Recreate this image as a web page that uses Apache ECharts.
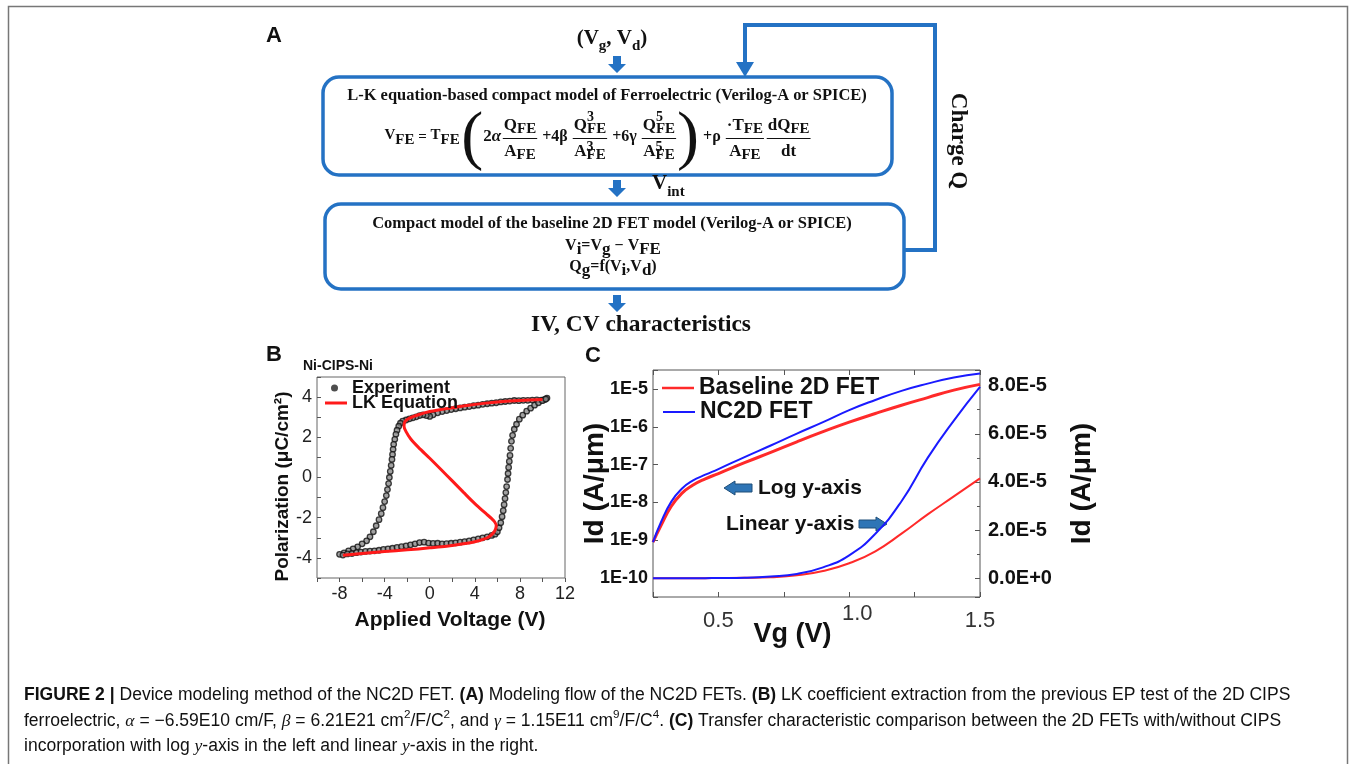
<!DOCTYPE html>
<html>
<head>
<meta charset="utf-8">
<script src="https://cdn.jsdelivr.net/npm/echarts@6/dist/echarts.min.js"></script>
<style>
html, body { margin: 0; padding: 0; background: #fff; }
#chart { width: 1356px; height: 764px; }
</style>
</head>
<body>
<div id="chart"></div>
<script>
// ---- panel B: hysteresis loop (experiment) and LK fit ----
const expVoltage = [
  10.4, 10.2, 9.9, 9.5, 9.1, 8.7, 8.3, 7.9, 7.5, 7.1, 6.7, 6.3, 5.9, 5.5, 5.1, 4.7, 4.3, 3.9, 3.5, 3.1,
  2.7, 2.3, 1.9, 1.5, 1.1, 0.7, 0.3, 0.0, -0.3, -0.6, -0.9, -1.2, -1.5, -1.8, -2.1,
  -2.4, -2.6, -2.75, -2.9, -3.0, -3.1, -3.2, -3.25, -3.3, -3.35, -3.42, -3.5, -3.58, -3.65, -3.75,
  -3.85, -4.0, -4.15, -4.3, -4.5, -4.75, -5.0, -5.3, -5.6, -6.0, -6.4, -6.8, -7.2, -7.6, -8.0,
  -7.7, -7.3, -6.9, -6.5, -6.1, -5.7, -5.3, -4.9, -4.5, -4.1, -3.7, -3.3, -2.9, -2.5, -2.1,
  -1.7, -1.3, -0.9, -0.5, -0.1, 0.3, 0.7, 1.1, 1.5, 1.9, 2.3, 2.7, 3.1, 3.5, 3.9, 4.3, 4.7, 5.1, 5.5,
  5.8, 6.0, 6.15, 6.3, 6.42, 6.52, 6.6, 6.68, 6.75, 6.82, 6.9, 6.95, 7.0, 7.06, 7.12, 7.18, 7.25,
  7.35, 7.5, 7.7, 7.95, 8.25, 8.6, 8.95, 9.3, 9.65, 10.0, 10.3
];
const expPolarization = [
  3.95, 3.88, 3.85, 3.86, 3.85, 3.84, 3.84, 3.82, 3.83, 3.8, 3.78, 3.76, 3.72, 3.7, 3.67, 3.64, 3.6, 3.57, 3.53, 3.5,
  3.46, 3.42, 3.38, 3.33, 3.28, 3.22, 3.12, 3.04, 3.08, 3.12, 3.08, 3.02, 2.97, 2.92, 2.86,
  2.8, 2.7, 2.55, 2.35, 2.15, 1.9, 1.65, 1.4, 1.15, 0.9, 0.6, 0.3, 0.0, -0.3, -0.6,
  -0.9, -1.2, -1.5, -1.8, -2.1, -2.4, -2.7, -2.95, -3.15, -3.3, -3.45, -3.55, -3.65, -3.75, -3.82,
  -3.86, -3.8, -3.78, -3.74, -3.71, -3.68, -3.66, -3.65, -3.62, -3.58, -3.55, -3.52, -3.48, -3.44, -3.4,
  -3.35, -3.3, -3.24, -3.22, -3.26, -3.28, -3.27, -3.3, -3.29, -3.27, -3.25, -3.22, -3.19, -3.15, -3.1, -3.05, -3.0, -2.95, -2.88,
  -2.82, -2.7, -2.5, -2.25, -1.95, -1.65, -1.35, -1.05, -0.75, -0.45, -0.1, 0.2, 0.5, 0.8, 1.1, 1.45, 1.8,
  2.1, 2.4, 2.65, 2.9, 3.1, 3.3, 3.45, 3.6, 3.72, 3.82, 3.9
];
const lkVoltage = [
  -7.7, -6.0, -4.0, -2.0, 0.0, 1.5, 3.0, 4.0, 4.8, 5.3, 5.65, 5.85, 5.9, 5.75, 5.5, 5.0, 4.0, 3.0, 2.0,
  1.0, 0.0, -1.0, -1.7, -2.1, -2.28, -2.2, -1.8, -1.0, 0.0, 1.0, 2.0, 3.3, 5.0, 6.5, 8.0, 10.0
];
const lkPolarization = [
  -3.87, -3.78, -3.68, -3.6, -3.5, -3.42, -3.3, -3.2, -3.07, -2.93, -2.75, -2.55, -2.38, -2.2, -2.05, -1.8, -1.3, -0.74, -0.17,
  0.4, 0.96, 1.5, 1.93, 2.28, 2.55, 2.78, 2.95, 3.12, 3.28, 3.38, 3.47, 3.58, 3.7, 3.78, 3.83, 3.88
];
const bVoltageLabels = [-8, -4, 0, 4, 8, 12];
const bPolarLabels = [-4, -2, 0, 2, 4];

// ---- panel C: transfer curves ----
const vgValues = [0.25, 0.28, 0.32, 0.36, 0.4, 0.45, 0.5, 0.6, 0.7, 0.8, 0.9, 1.0, 1.1, 1.2, 1.3, 1.4, 1.5];
const baselineLog = [8.9e-10, 2.4e-9, 7.9e-9, 1.74e-8, 2.8e-8, 4.2e-8, 5.8e-8, 1.12e-7, 2.1e-7, 4.0e-7,
  7.4e-7, 1.32e-6, 2.24e-6, 3.7e-6, 5.9e-6, 9.3e-6, 1.32e-5];
const nc2dLog = [8.9e-10, 2.95e-9, 1.05e-8, 2.3e-8, 3.7e-8, 5.4e-8, 7.6e-8, 1.58e-7, 3.2e-7, 6.6e-7,
  1.32e-6, 2.75e-6, 5.1e-6, 8.9e-6, 1.38e-5, 2.0e-5, 2.57e-5];
const baselineLinear = [0, 0, 0, 0, 0, 0.003e-5, 0.006e-5, 0.015e-5, 0.04e-5, 0.12e-5,
  0.3e-5, 0.62e-5, 1.12e-5, 1.85e-5, 2.65e-5, 3.4e-5, 4.15e-5];
const nc2dLinear = [0, 0, 0, 0, 0, 0.003e-5, 0.008e-5, 0.02e-5, 0.07e-5, 0.18e-5,
  0.45e-5, 0.95e-5, 1.85e-5, 3.2e-5, 5.0e-5, 6.55e-5, 7.95e-5];
const cVgLabels = [0.5, 1.0, 1.5];

const SANS = 'Liberation Sans';
const SERIF = 'Liberation Serif';
const BLUE = '#2472c4';
const INK = '#111';

// ---- text layout helpers (flowchart equations, caption) ----
const ctx = document.createElement('canvas').getContext('2d');
const fontOf = (s) => `${s.style || 'normal'} ${s.weight || 'normal'} ${s.size}px "${s.family}"`;
const measure = (s) => { ctx.font = fontOf(s); return ctx.measureText(s.t).width; };
const segWidth = (s) => {
  if (s.num) return Math.max(rowWidth(s.num), rowWidth(s.den)) + 4;
  if (s.stack) return Math.max(...s.stack.map(segWidth));
  return measure(s);
};
const rowWidth = (segs) => segs.reduce((w, s) => w + segWidth(s), 0);
const placeRow = (segs, x, y, align, out) => {
  let cx = align === 'center' ? x - rowWidth(segs) / 2 : x;
  segs.forEach((s) => {
    const w = segWidth(s);
    if (s.num) {
      placeRow(s.num, cx + w / 2, y + s.up, 'center', out);
      placeRow(s.den, cx + w / 2, y + s.down, 'center', out);
      out.push({ type: 'line', silent: true,
        shape: { x1: cx + 1, y1: y + s.bar, x2: cx + w - 1, y2: y + s.bar },
        style: { stroke: INK, lineWidth: 1.1 } });
    } else if (s.stack) {
      s.stack.forEach((t) => placeRow([t], cx, y, 'left', out));
    } else {
      out.push({ type: 'text', silent: true, x: cx, y: y + (s.dy || 0),
        style: { text: s.t, fontSize: s.size, fontFamily: s.family, fontWeight: s.weight || 'normal',
          fontStyle: s.style || 'normal', fill: s.fill || INK, align: 'left', verticalAlign: 'middle' } });
    }
    cx += w;
  });
};
const fitSize = (t, weight, family, target) => 100 * target / measure({ t, size: 100, weight, family });

const tb = (t, size, dy) => ({ t, size, weight: 'bold', family: SERIF, dy: dy || 0 });
const ti = (t, size, dy) => ({ t, size, weight: 'bold', style: 'italic', family: SERIF, dy: dy || 0 });
const FE = (dy) => tb('FE', 15, dy === undefined ? 3 : dy);
const stk = (sup, supDy) => ({ stack: [tb(sup, 14, supDy), FE(3)] });
const frac = (num, den) => ({ num, den, up: -11, down: 15, bar: 1.5 });
const paren = (t) => ({ t, size: 66, weight: 'normal', family: SERIF, dy: 3 });
const sp = (w) => tb(' ', w);

const gfx = [];

// outer frame
gfx.push({ type: 'polyline', silent: true, shape: { points: [[8.5, 764], [8.5, 6.5], [1347.5, 6.5], [1347.5, 764]] },
  style: { stroke: '#777', lineWidth: 1.5, fill: null } });

// panel letters
[['A', 274, 36], ['B', 274, 355], ['C', 593, 356]].forEach(([t, x, y]) => {
  gfx.push({ type: 'text', silent: true, x, y,
    style: { text: t, fontSize: 22, fontWeight: 'bold', fontFamily: SANS, fill: INK, align: 'center', verticalAlign: 'middle' } });
});

// flow boxes and arrows
gfx.push({ type: 'rect', silent: true, shape: { x: 323, y: 77, width: 569, height: 98, r: 16 },
  style: { fill: null, stroke: BLUE, lineWidth: 3.5 } });
gfx.push({ type: 'rect', silent: true, shape: { x: 325, y: 204, width: 579, height: 85, r: 16 },
  style: { fill: null, stroke: BLUE, lineWidth: 3.5 } });
gfx.push({ type: 'polyline', silent: true, shape: { points: [[904, 250], [935, 250], [935, 25], [745, 25], [745, 64]] },
  style: { stroke: BLUE, lineWidth: 4, fill: null } });
gfx.push({ type: 'polygon', silent: true, shape: { points: [[736, 62], [754, 62], [745, 77]] }, style: { fill: BLUE } });
[56, 180, 295].forEach((y0) => {
  gfx.push({ type: 'polygon', silent: true,
    shape: { points: [[613, y0], [621, y0], [621, y0 + 8], [626, y0 + 8], [617, y0 + 17], [608, y0 + 8], [613, y0 + 8]] },
    style: { fill: BLUE } });
});

// flow texts
placeRow([tb('(V', 21), tb('g', 15, 7), tb(', V', 21), tb('d', 15, 7), tb(')', 21)], 612, 39, 'center', gfx);
const t1 = 'L-K equation-based compact model of Ferroelectric (Verilog-A or SPICE)';
placeRow([tb(t1, fitSize(t1, 'bold', SERIF, 520))], 607, 96, 'center', gfx);
placeRow([
  tb('V', 15, -2), FE(3), tb(' = ', 15), tb('T', 15, -2), FE(3), sp(6), paren('('),
  tb('2', 17), ti('α', 17), sp(3),
  frac([tb('Q', 17), FE()], [tb('A', 17), FE()]),
  tb(' +4β ', 16),
  frac([tb('Q', 17), stk('3', -9)], [tb('A', 17), stk('3', -5)]),
  tb(' +6γ ', 16),
  frac([tb('Q', 17), stk('5', -9)], [tb('A', 17), stk('5', -5)]),
  paren(')'), tb(' +ρ ', 16),
  frac([tb('·T', 17), FE()], [tb('A', 17), FE()]), sp(3),
  frac([tb('dQ', 17), FE()], [tb('dt', 17)])
], 598, 137, 'center', gfx);
placeRow([tb('V', 21), tb('int', 15, 8)], 652, 184, 'left', gfx);
const t2 = 'Compact model of the baseline 2D FET model (Verilog-A or SPICE)';
placeRow([tb(t2, fitSize(t2, 'bold', SERIF, 480))], 612, 224, 'center', gfx);
placeRow([tb('V', 16), tb('i', 17, 4), tb('=V', 16), tb('g', 17, 4), tb(' − V', 16), tb('FE', 17, 4)], 613, 246, 'center', gfx);
placeRow([tb('Q', 16), tb('g', 17, 4), tb('=f(V', 16), tb('i', 17, 4), tb(',V', 16), tb('d', 17, 4), tb(')', 16)], 613, 267, 'center', gfx);
const t3 = 'IV, CV characteristics';
placeRow([tb(t3, fitSize(t3, 'bold', SERIF, 220))], 641, 325, 'center', gfx);
gfx.push({ type: 'text', silent: true, x: 958, y: 141, rotation: -Math.PI / 2,
  style: { text: 'Charge Q', fontSize: 23, fontWeight: 'bold', fontFamily: SERIF, fill: INK, align: 'center', verticalAlign: 'middle' } });

// panel B subtitle
gfx.push({ type: 'text', silent: true, x: 303, y: 366,
  style: { text: 'Ni-CIPS-Ni', fontSize: 14, fontWeight: 'bold', fontFamily: SANS, fill: INK, align: 'left', verticalAlign: 'middle' } });

// panel C annotations
const blockArrow = (x0, x1, y, dir) => {
  const tip = dir < 0 ? x0 : x1;
  const base = tip - dir * 11;
  const tail = dir < 0 ? x1 : x0;
  gfx.push({ type: 'polygon', silent: true,
    shape: { points: [[tip, y], [base, y - 7], [base, y - 4], [tail, y - 4], [tail, y + 4], [base, y + 4], [base, y + 7]] },
    style: { fill: '#2e75b6', stroke: '#1f4e79', lineWidth: 1 } });
};
blockArrow(724, 752, 488, -1);
blockArrow(859, 887, 524, 1);
gfx.push({ type: 'text', silent: true, x: 758, y: 488,
  style: { text: 'Log y-axis', fontSize: 21, fontWeight: 'bold', fontFamily: SANS, fill: INK, align: 'left', verticalAlign: 'middle' } });
gfx.push({ type: 'text', silent: true, x: 726, y: 524,
  style: { text: 'Linear y-axis', fontSize: 21, fontWeight: 'bold', fontFamily: SANS, fill: INK, align: 'left', verticalAlign: 'middle' } });

// caption
const capLines = (k) => {
  const n = (t) => ({ t, size: 15 * k, family: SANS });
  const b = (t) => ({ t, size: 15 * k, family: SANS, weight: 'bold' });
  const i = (t) => ({ t, size: 15 * k, family: SERIF, style: 'italic' });
  const s = (t) => ({ t, size: 10 * k, family: SANS, dy: -5 * k });
  return [
    [b('FIGURE 2 | '), n('Device modeling method of the NC2D FET. '), b('(A)'), n(' Modeling flow of the NC2D FETs. '),
      b('(B)'), n(' LK coefficient extraction from the previous EP test of the 2D CIPS')],
    [n('ferroelectric, '), i('α'), n(' = −6.59E10 cm/F, '), i('β'), n(' = 6.21E21 cm'), s('2'), n('/F/C'), s('2'),
      n(', and '), i('γ'), n(' = 1.15E11 cm'), s('9'), n('/F/C'), s('4'), n('. '), b('(C)'),
      n(' Transfer characteristic comparison between the 2D FETs with/without CIPS')],
    [n('incorporation with log '), i('y'), n('-axis in the left and linear '), i('y'), n('-axis in the right.')]
  ];
};
const capScale = 1267 / rowWidth(capLines(1)[0]);
capLines(capScale).forEach((line, idx) => placeRow(line, 24, [695, 721, 746][idx], 'left', gfx));

// ---- chart ----
const chart = echarts.init(document.getElementById('chart'), null, { renderer: 'canvas' });
const zip = (xs, ys) => xs.map((x, i) => [x, ys[i]]);
const near = (a, b) => Math.abs(a - b) < 1e-6;
const noLine = { show: false, onZero: false };

const option = {
  animation: false,
  backgroundColor: '#fff',
  textStyle: { fontFamily: SANS },
  grid: [
    { left: 317, top: 377, width: 248, height: 201, show: true, borderColor: '#666', borderWidth: 1 },
    { left: 653, top: 370, width: 327, height: 227, show: true, borderColor: '#555', borderWidth: 1 }
  ],
  xAxis: [
    {
      gridIndex: 0, type: 'value', min: -10, max: 12, interval: 2,
      axisLine: noLine, splitLine: { show: false },
      axisTick: { show: true, inside: false, length: 4, lineStyle: { color: '#555' } },
      axisLabel: { margin: 7, fontSize: 18, color: '#222',
        formatter: (v) => (bVoltageLabels.some((l) => near(l, v)) ? String(v) : '') },
      name: 'Applied Voltage (V)', nameLocation: 'middle', nameGap: 32, nameMoveOverlap: false,
      nameTextStyle: { fontSize: 21, fontWeight: 'bold', color: INK, padding: [0, 0, 0, 18] }
    },
    {
      gridIndex: 1, type: 'value', min: 0.25, max: 1.5, interval: 0.25,
      axisLine: noLine, splitLine: { show: false },
      axisTick: { show: true, inside: true, length: 5, lineStyle: { color: '#555' } },
      axisLabel: {
        margin: 6, fontSize: 22, color: '#333',
        formatter: (v) => {
          if (near(v, 1.0)) return '{up|1.0}';
          return cVgLabels.some((l) => near(l, v)) ? '{n|' + v.toFixed(1) + '}' : '';
        },
        rich: { n: { fontSize: 22, color: '#333', padding: [7, 0, 0, 0] }, up: { fontSize: 22, color: '#333', padding: [0, 0, 0, 16] } }
      },
      name: 'Vg (V)', nameLocation: 'middle', nameGap: 24, nameMoveOverlap: false,
      nameTextStyle: { fontSize: 27, fontWeight: 'bold', color: INK, padding: [0, 48, 0, 0] }
    },
    {
      gridIndex: 1, type: 'value', position: 'top', min: 0.25, max: 1.5, interval: 0.25,
      axisLine: noLine, splitLine: { show: false }, axisLabel: { show: false },
      axisTick: { show: true, inside: true, length: 5, lineStyle: { color: '#555' } }
    }
  ],
  yAxis: [
    {
      gridIndex: 0, type: 'value', min: -5, max: 5, interval: 1,
      axisLine: noLine, splitLine: { show: false },
      axisTick: { show: true, inside: true, length: 4, lineStyle: { color: '#555' } },
      axisLabel: { margin: 5, fontSize: 18, color: '#222',
        formatter: (v) => (bPolarLabels.some((l) => near(l, v)) ? String(v) : '') },
      name: 'Polarization (μC/cm²)', nameLocation: 'middle', nameGap: 25, nameMoveOverlap: false,
      nameTextStyle: { fontSize: 19, fontWeight: 'bold', color: INK, padding: [0, 18, 0, 0] }
    },
    {
      gridIndex: 1, type: 'log', logBase: 10, min: Math.pow(10, -10.5), max: Math.pow(10, -4.5),
      axisLine: noLine, splitLine: { show: false },
      axisTick: { show: true, inside: true, length: 5, lineStyle: { color: '#555' } },
      axisLabel: { margin: 5, fontSize: 18, fontWeight: 'bold', color: INK,
        formatter: (v) => {
          const e = Math.log10(v);
          return Math.abs(e - Math.round(e)) < 0.01 ? '1E' + Math.round(e) : '';
        } },
      name: 'Id (A/μm)', nameLocation: 'middle', nameGap: 44, nameMoveOverlap: false,
      nameTextStyle: { fontSize: 28, fontWeight: 'bold', color: INK }
    },
    {
      gridIndex: 1, type: 'value', position: 'right', min: -0.78e-5, max: 8.65e-5, splitNumber: 5,
      axisLine: noLine, splitLine: { show: false },
      axisTick: { show: true, inside: true, length: 5, lineStyle: { color: '#555' } },
      minorTick: { show: true, splitNumber: 2, length: 3, lineStyle: { color: '#555' } },
      axisLabel: { margin: 8, fontSize: 20, fontWeight: 'bold', color: INK, showMinLabel: false, showMaxLabel: false,
        formatter: (v) => {
          const m = v / 1e-5;
          if (Math.abs(m - Math.round(m)) > 0.01) return '';
          return Math.round(m) === 0 ? '0.0E+0' : Math.round(m).toFixed(1) + 'E-5';
        } },
      name: 'Id (A/μm)', nameLocation: 'middle', nameGap: 88, nameMoveOverlap: false,
      nameTextStyle: { fontSize: 28, fontWeight: 'bold', color: INK }
    }
  ],
  legend: [
    { data: ['Experiment'], left: 331, top: 378, padding: 0, icon: 'circle', itemWidth: 7, itemHeight: 7,
      itemStyle: { color: '#222', borderWidth: 0 },
      textStyle: { fontSize: 18, fontWeight: 'bold', color: INK, lineHeight: 20, padding: [0, 0, 0, 9] } },
    { data: ['LK Equation'], left: 325, top: 393, padding: 0, icon: 'rect', itemWidth: 22, itemHeight: 3,
      textStyle: { fontSize: 18, fontWeight: 'bold', color: INK, lineHeight: 20 } },
    { data: ['Baseline 2D FET'], left: 662, top: 375, padding: 0, icon: 'rect', itemWidth: 32, itemHeight: 2.5,
      textStyle: { fontSize: 23, fontWeight: 'bold', color: INK, lineHeight: 26 } },
    { data: ['NC2D FET'], left: 663, top: 399, padding: 0, icon: 'rect', itemWidth: 32, itemHeight: 2,
      textStyle: { fontSize: 23, fontWeight: 'bold', color: INK, lineHeight: 26 } }
  ],
  series: [
    {
      name: 'Experiment', type: 'scatter', xAxisIndex: 0, yAxisIndex: 0, z: 2,
      data: zip(expVoltage, expPolarization), symbolSize: 5.5,
      itemStyle: { color: '#8a8a8a', borderColor: '#111', borderWidth: 1.3 }
    },
    {
      name: 'LK Equation', type: 'line', xAxisIndex: 0, yAxisIndex: 0, z: 3,
      data: zip(lkVoltage, lkPolarization), symbol: 'none', smooth: 0.3,
      lineStyle: { color: '#ff1a1a', width: 3 }, itemStyle: { color: '#ff1a1a' }
    },
    {
      name: 'Baseline 2D FET', type: 'line', xAxisIndex: 1, yAxisIndex: 1,
      data: zip(vgValues, baselineLog), symbol: 'none', smooth: true,
      lineStyle: { color: '#ff2a2a', width: 3 }, itemStyle: { color: '#ff2a2a' }
    },
    {
      name: 'NC2D FET', type: 'line', xAxisIndex: 1, yAxisIndex: 1,
      data: zip(vgValues, nc2dLog), symbol: 'none', smooth: true,
      lineStyle: { color: '#1a1aff', width: 2 }, itemStyle: { color: '#1a1aff' }
    },
    {
      name: 'Baseline 2D FET', type: 'line', xAxisIndex: 1, yAxisIndex: 2,
      data: zip(vgValues, baselineLinear), symbol: 'none', smooth: true,
      lineStyle: { color: '#ff2a2a', width: 2 }, itemStyle: { color: '#ff2a2a' }
    },
    {
      name: 'NC2D FET', type: 'line', xAxisIndex: 1, yAxisIndex: 2,
      data: zip(vgValues, nc2dLinear), symbol: 'none', smooth: true,
      lineStyle: { color: '#1a1aff', width: 2 }, itemStyle: { color: '#1a1aff' }
    }
  ],
  graphic: gfx
};
chart.setOption(option);
</script>
</body>
</html>
